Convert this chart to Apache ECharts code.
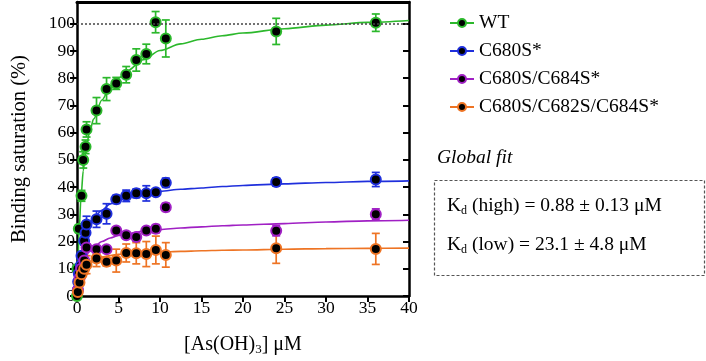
<!DOCTYPE html>
<html>
<head>
<meta charset="utf-8">
<script src="https://cdn.jsdelivr.net/npm/echarts@6/dist/echarts.min.js"></script>
<style>
  html, body { margin: 0; padding: 0; background: #fff; }
  #chart { width: 706px; height: 361px; }
</style>
</head>
<body>
<div id="chart"></div>
<script>
// series names
var names = ['WT', 'C680S*', 'C680S/C684S*', 'C680S/C682S/C684S*']
var colors = ['#2cb82c', '#1f2fdc', '#a020c4', '#ee7424']

// measured points (x = [As(OH)3] uM, y = binding %, err = +/-)
var wtX = [0, 0.05, 0.22, 0.54, 0.75, 1.03, 1.15, 2.35, 3.56, 4.73, 5.93, 7.14, 8.35, 9.47, 10.7, 24, 36]
var wtY = [0, 10, 24.7, 36.8, 50, 54.8, 61.2, 68.1, 76, 78.1, 81.3, 86.7, 88.9, 100.6, 94.6, 97.2, 100.4]
var wtErr = [0.5, 1, 1.5, 2, 3, 2.5, 2.8, 4.8, 4.2, 2.2, 3, 4.1, 3.6, 3.9, 6.8, 4.8, 3.2]

var c1X = [0.1, 0.14, 0.22, 0.46, 0.54, 0.86, 1.03, 1.15, 2.35, 3.56, 4.73, 5.93, 7.14, 8.35, 9.5, 10.7, 24, 36]
var c1Y = [2.2, 5.2, 8.2, 11.2, 14.8, 20.2, 23.2, 26.3, 28.2, 30.2, 35.5, 36.8, 37.7, 37.7, 38.1, 41.6, 41.9, 42.8]
var c1Err = [0.5, 0.5, 0.8, 1, 1.2, 1.5, 1.5, 3, 3, 3.7, 1.5, 2.1, 1.6, 2.8, 0.7, 1.7, 1.5, 2.6]

var c2X = [0.1, 0.3, 0.5, 0.87, 1.15, 2.35, 3.56, 4.73, 5.93, 7.14, 8.35, 9.5, 10.7, 24, 36]
var c2Y = [2.2, 6.4, 10, 13, 17.8, 17.2, 17.2, 24.1, 22.3, 21.7, 24.1, 24.7, 32.6, 24.0, 30.0]
var c2Err = [0.5, 0.8, 1, 1, 1.2, 1, 1, 0.8, 1, 1.5, 1, 1.5, 1.5, 1.9, 2]

var c3X = [0.1, 0.3, 0.55, 0.87, 1.15, 2.35, 3.56, 4.73, 5.93, 7.14, 8.35, 9.5, 10.7, 24, 36]
var c3Y = [1.5, 5, 8, 10, 11.5, 13.8, 12.6, 13.0, 15.8, 15.7, 15.4, 16.9, 15.1, 17.5, 17.3]
var c3Err = [0.8, 1, 1.5, 2, 3.3, 3, 1.6, 4.2, 3.3, 3.9, 4.6, 5.1, 4.5, 5.5, 5.7]

// fitted curves
var fitX = [0, 0.1, 0.25, 0.5, 0.75, 1, 1.5, 2, 3, 4, 5, 6, 8, 10, 12.5, 15, 17.5, 20, 25, 30, 35, 40]
var wtFit = [0, 10, 24, 37, 46, 52, 60, 65, 72, 76.8, 80, 82.6, 86.8, 90.2, 92.6, 94.3, 95.6, 96.6, 98.2, 99.5, 100.5, 101.2]
var c1Fit = [0, 3, 7, 12, 17, 21, 26, 28.5, 31.5, 33.8, 35.3, 36.4, 37.7, 38.5, 39.2, 39.7, 40.2, 40.6, 41.2, 41.7, 42.1, 42.3]
var c2Fit = [0, 2, 4.5, 8, 11.5, 14, 16.5, 18, 20, 21.3, 22.2, 22.8, 23.8, 24.4, 25, 25.4, 25.8, 26.1, 26.6, 27.2, 27.6, 27.8]
var c3Fit = [0, 1.5, 3.5, 6.5, 9, 10.8, 12.5, 13.3, 14.3, 14.9, 15.3, 15.6, 15.9, 16.1, 16.4, 16.6, 16.8, 16.9, 17.2, 17.4, 17.5, 17.6]

var xTicks = [0, 5, 10, 15, 20, 25, 30, 35, 40]
var yTicks = [0, 10, 20, 30, 40, 50, 60, 70, 80, 90, 100]

var pts = [[wtX, wtY, wtErr], [c1X, c1Y, c1Err], [c2X, c2Y, c2Err], [c3X, c3Y, c3Err]]
var fits = [wtFit, c1Fit, c2Fit, c3Fit]

var font = '"Liberation Serif", "DejaVu Serif", serif'

function zip(a, b) { return a.map(function (v, i) { return [v, b[i]] }) }

var series = []
for (let i = 0; i < 4; i++) {
  series.push({
    name: names[i] + ' fit',
    type: 'line',
    data: zip(fitX, fits[i]),
    showSymbol: false,
    smooth: 0.3,
    smoothMonotone: 'x',
    lineStyle: { color: colors[i], width: 1.6 },
    silent: true,
    z: 2
  })
  series.push({
    name: names[i] + ' err',
    type: 'custom',
    data: pts[i][0].map(function (x, k) { return [x, pts[i][1][k], pts[i][2][k]] }),
    renderItem: function (params, api) {
      var x = api.value(0), y = api.value(1), e = api.value(2)
      var top = api.coord([x, y + e]), bot = api.coord([x, y - e])
      var w = 4
      var st = { stroke: colors[i], lineWidth: 1.7, fill: null }
      return {
        type: 'group',
        children: [
          { type: 'line', shape: { x1: top[0], y1: top[1], x2: bot[0], y2: bot[1] }, style: st },
          { type: 'line', shape: { x1: top[0] - w, y1: top[1], x2: top[0] + w, y2: top[1] }, style: st },
          { type: 'line', shape: { x1: bot[0] - w, y1: bot[1], x2: bot[0] + w, y2: bot[1] }, style: st }
        ]
      }
    },
    silent: true,
    z: 3
  })
  series.push({
    name: names[i],
    type: 'line',
    data: zip(pts[i][0], pts[i][1]),
    symbol: 'circle',
    symbolSize: 10,
    color: colors[i],
    itemStyle: { color: '#000', borderColor: colors[i], borderWidth: 2 },
    lineStyle: { color: colors[i], width: 0, opacity: 0 },
    z: 4
  })
}
// dotted reference at 100 %
series[2].markLine = {
  silent: true,
  symbol: 'none',
  label: { show: false },
  lineStyle: { color: '#444', type: [2, 2], width: 1.5 },
  data: [{ yAxis: 100 }]
}

var option = {
  backgroundColor: '#fff',
  animation: false,
  grid: { left: 77, right: 297, top: 2, bottom: 60 },
  legend: {
    data: names,
    orient: 'vertical',
    left: 444,
    top: 8,
    itemGap: 8,
    itemWidth: 24,
    itemHeight: 10,
    textStyle: { fontFamily: font, fontSize: 19.5, color: '#000' },
    lineStyle: { width: 2, opacity: 1 }
  },
  xAxis: [{
    type: 'value', min: 0, max: 40, interval: 5,
    name: '[As(OH){s|3}] μM',
    nameLocation: 'middle',
    nameGap: 37,
    nameTextStyle: { fontFamily: font, fontSize: 20, color: '#000', rich: { s: { fontFamily: font, fontSize: 13, verticalAlign: 'bottom', padding: [10, 0, 0, 0] } } },
    axisLine: { lineStyle: { color: '#000', width: 2.5 } },
    axisTick: { length: 6, lineStyle: { color: '#000', width: 2 }, customValues: xTicks },
    axisLabel: { fontFamily: font, fontSize: 17.5, color: '#000', margin: 3, customValues: xTicks },
    splitLine: { show: false }
  }, {
    type: 'value', min: 0, max: 40, position: 'top',
    axisLine: { show: true, onZero: false, lineStyle: { color: '#000', width: 3 } },
    axisTick: { show: false }, axisLabel: { show: false }, splitLine: { show: false }
  }],
  yAxis: [{
    type: 'value', min: 0, max: 108,
    name: 'Binding saturation (%)',
    nameLocation: 'middle',
    nameGap: 47,
    nameTextStyle: { fontFamily: font, fontSize: 20.5, color: '#000' },
    axisLine: { show: true, lineStyle: { color: '#000', width: 2.5 } },
    axisTick: { show: true, length: 7, lineStyle: { color: '#000', width: 2 }, customValues: yTicks },
    axisLabel: { fontFamily: font, fontSize: 17.5, color: '#000', margin: 2, customValues: yTicks },
    splitLine: { show: false }
  }, {
    type: 'value', min: 0, max: 108, position: 'right',
    axisLine: { show: true, onZero: false, lineStyle: { color: '#000', width: 2.5 } },
    axisTick: { show: true, inside: true, length: 6, lineStyle: { color: '#000', width: 2 }, customValues: yTicks },
    axisLabel: { show: false }, splitLine: { show: false }
  }],
  graphic: [
    {
      type: 'text', left: 437, top: 148,
      style: { text: 'Global fit', font: 'italic 19.5px ' + font, fill: '#000' }
    },
    {
      type: 'rect', left: 432, top: 178,
      shape: { width: 270, height: 95 },
      style: { fill: 'none', stroke: '#555', lineWidth: 1.2, lineDash: [3, 2] }
    },
    {
      type: 'text', left: 447, top: 196,
      style: {
        text: 'K{d|d} (high) = 0.88 ± 0.13 μM',
        font: '19.5px ' + font, fill: '#000',
        rich: { d: { fontFamily: font, fontSize: 12, verticalAlign: 'bottom', padding: [9, 0, 0, 0] } }
      }
    },
    {
      type: 'text', left: 447, top: 235,
      style: {
        text: 'K{d|d} (low) = 23.1 ± 4.8 μM',
        font: '19.5px ' + font, fill: '#000',
        rich: { d: { fontFamily: font, fontSize: 12, verticalAlign: 'bottom', padding: [9, 0, 0, 0] } }
      }
    }
  ],
  series: series
}

var chart = echarts.init(document.getElementById('chart'))
chart.setOption(option)
</script>
</body>
</html>
